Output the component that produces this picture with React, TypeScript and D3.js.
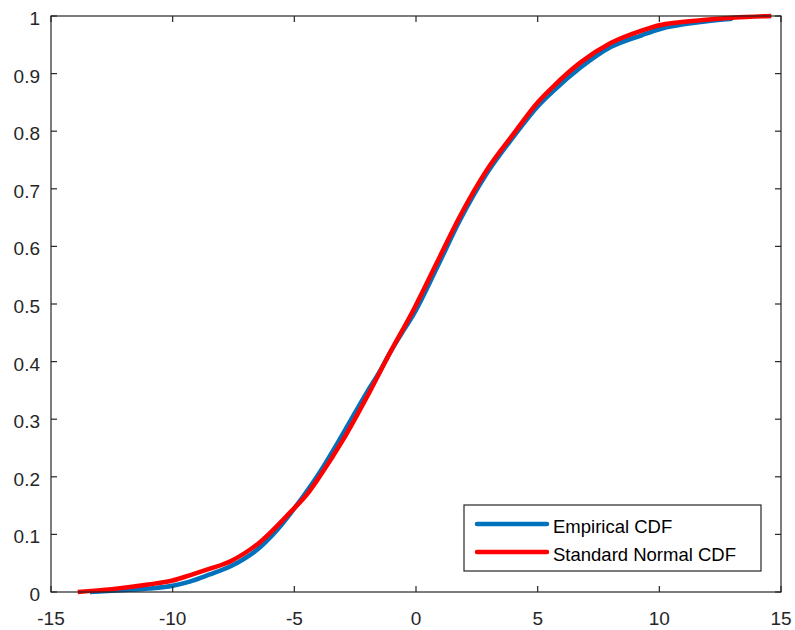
import React from 'react';
import * as d3 from 'd3';

// tick values
const xTicks = [-15, -10, -5, 0, 5, 10, 15];
const yTicks = [0, 0.1, 0.2, 0.3, 0.4, 0.5, 0.6, 0.7, 0.8, 0.9, 1];
const yTickLabels = ['0', '0.1', '0.2', '0.3', '0.4', '0.5', '0.6', '0.7', '0.8', '0.9', '1'];

// Empirical CDF
const empX = [-13.4, -12.5, -11, -10, -9.3, -8.5, -7.6, -6.4, -5.5, -5.0, -4.4, -4.0, -3.0, -2.0, -1.5, -1.1, -0.5, -0.1, 0.85, 1.8, 2.9, 4.0, 5.0, 5.65, 6.75, 8.0, 9.3, 10.0, 11.8, 13.0];
const empY = [0.0, 0.002, 0.006, 0.011, 0.018, 0.03, 0.045, 0.078, 0.118, 0.145, 0.18, 0.205, 0.275, 0.348, 0.382, 0.413, 0.455, 0.482, 0.562, 0.645, 0.726, 0.79, 0.843, 0.87, 0.91, 0.946, 0.967, 0.977, 0.99, 0.995];

// Standard normal CDF curve
const normX = [-13.9, -12.5, -11, -10, -9.3, -8.5, -7.6, -6.4, -5.2, -4.4, -4.0, -3.0, -2.0, -1.1, -0.1, 0.85, 1.8, 2.9, 4.0, 5.0, 5.65, 6.75, 8.0, 9.3, 10.0, 11.8, 13.0, 14.6];
const normY = [0.0, 0.005, 0.013, 0.02, 0.029, 0.04, 0.054, 0.087, 0.137, 0.174, 0.198, 0.264, 0.34, 0.413, 0.49, 0.571, 0.652, 0.732, 0.795, 0.85, 0.878, 0.919, 0.953, 0.975, 0.984, 0.993, 0.997, 1.0];

const seriesNames = ['Empirical CDF', 'Standard Normal CDF'];
const seriesColors = ['#0072BD', '#FF0000'];

const W = 795;
const H = 630;
const margin = { top: 16, right: 14, bottom: 38, left: 51 };
const axisColor = '#262626';
const font = '"Liberation Sans", Arial, sans-serif';

export default function App() {
  const x = d3.scaleLinear().domain([-15, 15]).range([margin.left, W - margin.right]);
  const y = d3.scaleLinear().domain([0, 1]).range([H - margin.bottom, margin.top]);

  const mkLine = (xs: number[], ys: number[]) =>
    d3.line<number>()
      .x((d) => x(d))
      .y((_, i) => y(ys[i]))
      .curve(d3.curveMonotoneX)(xs) || '';

  const x0 = margin.left;
  const x1 = W - margin.right;
  const y0 = H - margin.bottom;
  const y1 = margin.top;
  const tick = 6;

  return (
    <svg width={W} height={H} style={{ position: 'absolute', left: 0, top: 0, background: '#fff' }}>
      <rect x={0} y={0} width={W} height={H} fill="#fff" />

      {/* curves */}
      <path d={mkLine(empX, empY)} fill="none" stroke={seriesColors[0]} strokeWidth={4.5} strokeLinejoin="round" />
      <path d={mkLine(normX, normY)} fill="none" stroke={seriesColors[1]} strokeWidth={4.5} strokeLinejoin="round" />

      {/* axes box */}
      <rect x={x0} y={y1} width={x1 - x0} height={y0 - y1} fill="none" stroke={axisColor} strokeWidth={1.2} />

      {/* x ticks */}
      {xTicks.map((t) => (
        <g key={'x' + t}>
          <line x1={x(t)} x2={x(t)} y1={y0} y2={y0 - tick} stroke={axisColor} strokeWidth={1.2} />
          <line x1={x(t)} x2={x(t)} y1={y1} y2={y1 + tick} stroke={axisColor} strokeWidth={1.2} />
          <text x={x(t)} y={625} textAnchor="middle" fontSize={19} fontFamily={font} fill={axisColor}>
            {t}
          </text>
        </g>
      ))}

      {/* y ticks */}
      {yTicks.map((t, i) => (
        <g key={'y' + t}>
          <line x1={x0} x2={x0 + tick} y1={y(t)} y2={y(t)} stroke={axisColor} strokeWidth={1.2} />
          <line x1={x1} x2={x1 - tick} y1={y(t)} y2={y(t)} stroke={axisColor} strokeWidth={1.2} />
          <text x={40} y={y(t) + 4} textAnchor="end" dominantBaseline="middle" fontSize={19} fontFamily={font} fill={axisColor}>
            {yTickLabels[i]}
          </text>
        </g>
      ))}

      {/* legend */}
      <g>
        <rect x={464} y={505} width={297} height={66} fill="#fff" stroke={axisColor} strokeWidth={1.2} />
        {seriesNames.map((name, i) => (
          <g key={name} transform={`translate(0, ${524 + i * 28})`}>
            <line x1={477} x2={547} y1={0} y2={0} stroke={seriesColors[i]} strokeWidth={4.5} strokeLinecap="round" />
            <text x={553} y={9} fontSize={18.5} fontFamily={font} fill="#000">
              {name}
            </text>
          </g>
        ))}
      </g>
    </svg>
  );
}
